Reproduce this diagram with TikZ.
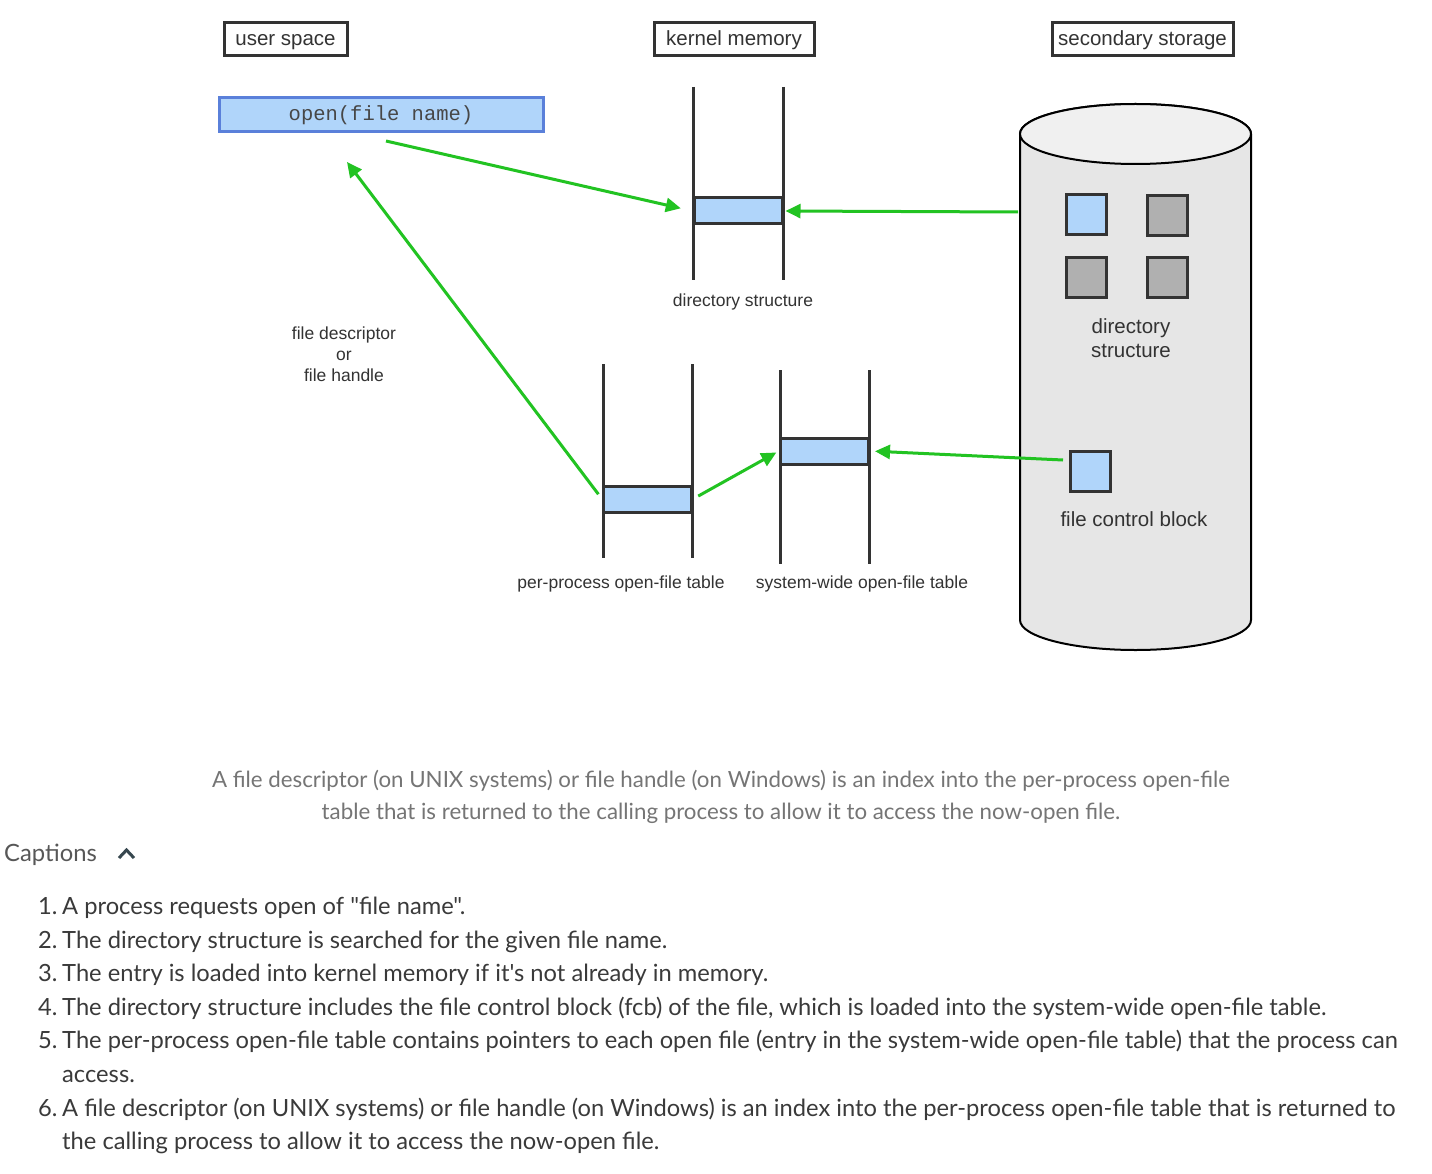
\documentclass[tikz,border=0pt]{standalone}
\usepackage{fontspec}
\setmainfont{Liberation Sans}
\setmonofont{Liberation Mono}
\newfontfamily\capfont{Lato}
\usetikzlibrary{arrows.meta}

\definecolor{darkline}{HTML}{333333}
\definecolor{entryblue}{HTML}{B0D5FA}
\definecolor{openborder}{HTML}{5A80DA}
\definecolor{arrowgreen}{HTML}{22C322}
\definecolor{diskside}{HTML}{E6E6E6}
\definecolor{disktop}{HTML}{F0F0F0}
\definecolor{blockgray}{HTML}{B0B0B0}
\definecolor{notegray}{HTML}{757575}
\definecolor{listgray}{HTML}{3A3A3A}
\definecolor{chevron}{HTML}{37474F}

\tikzset{
  region/.style={draw=darkline, line width=3pt, minimum width=#1, minimum height=33pt,
    inner sep=0pt, text height=15pt, text depth=2pt, text=darkline, font=\fontsize{20.5}{24}\selectfont},
  entry/.style={draw=darkline, fill=entryblue, line width=3pt, minimum width=88pt,
    minimum height=26pt, inner sep=0pt},
  block/.style={draw=darkline, fill=#1, line width=3pt, minimum size=40pt, inner sep=0pt},
  tabline/.style={draw=darkline, line width=3pt},
  flow/.style={draw=arrowgreen, line width=3pt, -{Triangle[length=15pt,width=14pt]}},
  lbl/.style={text=darkline, font=\fontsize{17.5}{21}\selectfont, align=center, inner sep=0pt},
  disklbl/.style={text=darkline, font=\fontsize{20.5}{24}\selectfont, align=center, inner sep=0pt},
  capline/.style={text=listgray, font=\capfont\fontsize{23.7}{28}\selectfont, inner sep=0pt,
    anchor=west, text height=16pt, text depth=0pt},
}

\begin{document}
\begin{tikzpicture}[x=1pt, y=-1pt]
    \useasboundingbox[fill=white] (0,0) rectangle (1432,1174);

    % column headings
    \node[region=123pt] (user) at (285.5,39.5) {user space};
    \node[region=160pt] (kernel) at (734,39.5) {kernel memory};
    \node[region=181pt] (storage) at (1142.5,39.5) {secondary storage};

    % system call
    \node[draw=openborder, fill=entryblue, line width=3pt, minimum width=324pt, minimum height=34pt,
      inner sep=0pt, text=darkline!90, font=\ttfamily\fontsize{20.5}{24}\selectfont] (open) at (381,115) {open(file name)};

    % in-memory tables
    \draw[tabline] (693,87) -- (693,280) (783,87) -- (783,280);
    \draw[tabline] (603,364) -- (603,558) (692,364) -- (692,558);
    \draw[tabline] (780,370) -- (780,564) (869,370) -- (869,564);

    \node[entry] (dirent) at (738,211) {};
    \node[entry] (perent) at (647.5,499) {};
    \node[entry] (sysent) at (824.5,451) {};

    \node[lbl] (dirlbl) at (743,302) {directory structure};
    \node[lbl] (perlbl) at (621,584) {per-process open-file table};
    \node[lbl] (syslbl) at (862,584) {system-wide open-file table};
    \node[lbl] (fdlbl) at (344,354) {file descriptor\\or\\file handle};

    % disk
    \draw[black, line width=2pt, fill=diskside] (1020,134) -- (1020,620)
      arc[start angle=180, end angle=0, x radius=115.5, y radius=30] -- (1251,134)
      arc[start angle=0, end angle=-180, x radius=115.5, y radius=30] -- cycle;
    \draw[black, line width=2pt, fill=disktop] (1135.5,134) ellipse[x radius=115.5, y radius=30];

    \node[block=entryblue] (dirA) at (1086,214.5) {};
    \node[block=blockgray] (dirB) at (1167,216) {};
    \node[block=blockgray] (dirC) at (1086,278) {};
    \node[block=blockgray] (dirD) at (1167,278) {};
    \node[disklbl] (disklbl) at (1131,338) {directory\\structure};

    \node[block=entryblue] (fcb) at (1090.5,471) {};
    \node[disklbl] (fcblbl) at (1134,519) {file control block};

    % flow of the open call
    \coordinate (openout) at (386,141);
    \coordinate (fdtip) at (347,162);
    \coordinate (diskdir) at (1018,212);
    \coordinate (fcbout) at (1063,460);

    \draw[flow, shorten >=12pt] (openout) -- (dirent.west);
    \draw[flow, shorten >=2pt] (diskdir) -- (dirent.east);
    \draw[flow, shorten <=6pt] (perent.west) -- (fdtip);
    \draw[flow, shorten <=6pt, shorten >=3pt] (perent.east) -- (sysent.west);
    \draw[flow, shorten >=5pt] (fcbout) -- (sysent.east);

    % figure caption
    \node[text=notegray, font=\capfont\fontsize{22.3}{32}\selectfont, align=center, inner sep=0pt] (note) at (721,797)
      {A file descriptor (on UNIX systems) or file handle (on Windows) is an index into the per-process open-file\\
       table that is returned to the calling process to allow it to access the now-open file.};

    \node[capline, text=listgray!85] (caphead) at (4,853) {\fontsize{23.8}{28}\selectfont Captions};
    \draw[chevron, line width=3pt] (119,858) -- (126.5,850) -- (134,858);

    \foreach \num/\txt/\ypos in {
      1./{A process requests open of "file name".}/906,
      2./{The directory structure is searched for the given file name.}/940,
      3./{The entry is loaded into kernel memory if it's not already in memory.}/973,
      4./{The directory structure includes the file control block (fcb) of the file, which is loaded into the system-wide open-file table.}/1007,
      5./{The per-process open-file table contains pointers to each open file (entry in the system-wide open-file table) that the process can}/1040,
      {}/{access.}/1074,
      6./{A file descriptor (on UNIX systems) or file handle (on Windows) is an index into the per-process open-file table that is returned to}/1108,
      {}/{the calling process to allow it to access the now-open file.}/1141}
    {
      \node[capline] (num\ypos) at (38,\ypos) {\num};
      \node[capline] (item\ypos) at (62,\ypos) {\txt};
    }
\end{tikzpicture}
\end{document}
